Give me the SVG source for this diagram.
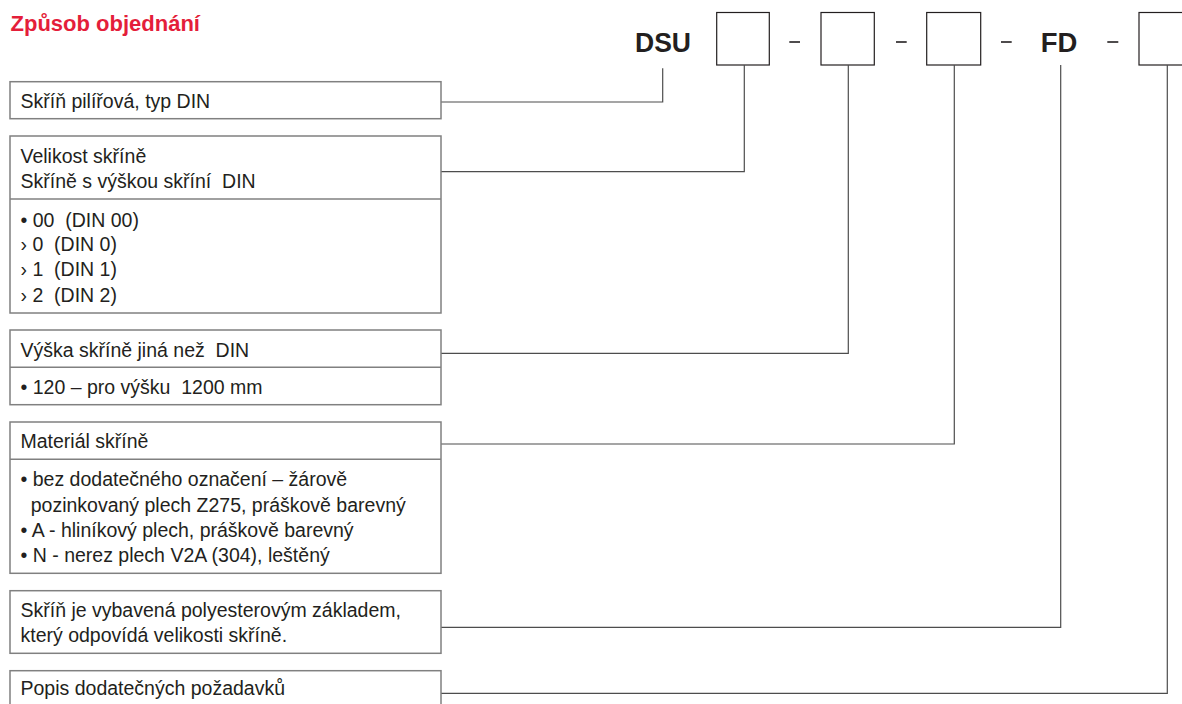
<svg xmlns="http://www.w3.org/2000/svg" width="1182" height="704" viewBox="0 0 1182 704">
<style>
.t{font-family:"Liberation Sans",Arial,sans-serif;font-size:19.5px;fill:#231f20;white-space:pre}
.hd{font-family:"Liberation Sans",Arial,sans-serif;font-size:28px;font-weight:bold;fill:#231f20}
.ttl{font-family:"Liberation Sans",Arial,sans-serif;font-size:22px;font-weight:bold;fill:#e41e3a}
.box{fill:#fff;stroke:#808080;stroke-width:1.5}
.div{stroke:#808080;stroke-width:1.5}
.hb{fill:#fff;stroke:#231f20;stroke-width:1.2}
.dash{stroke:#231f20;stroke-width:1.6}
.con{fill:none;stroke:#4d4d4d;stroke-width:1.2}
</style>
<rect width="1182" height="704" fill="#fff"/>
<text class="ttl" x="10.5" y="31">Způsob objednání</text>

<g id="header">
<text class="hd" x="635" y="51.7" textLength="56" lengthAdjust="spacingAndGlyphs">DSU</text>
<rect class="hb" x="716.7" y="12.5" width="52.6" height="52.5"/>
<line class="dash" x1="789.3" y1="42" x2="800" y2="42"/>
<rect class="hb" x="821" y="12.5" width="53.3" height="52.5"/>
<line class="dash" x1="896" y1="42" x2="906.7" y2="42"/>
<rect class="hb" x="926.7" y="12.5" width="54" height="52.5"/>
<line class="dash" x1="1001" y1="42" x2="1011.7" y2="42"/>
<text class="hd" x="1040.7" y="51.7" textLength="36.6" lengthAdjust="spacingAndGlyphs">FD</text>
<line class="dash" x1="1107.3" y1="42" x2="1118.3" y2="42"/>
<rect class="hb" x="1139" y="12.5" width="54" height="52.5"/>
</g>

<g id="connectors">
<path class="con" d="M441 102 H662.7 V68.3"/>
<path class="con" d="M441 171.7 H744.3 V65"/>
<path class="con" d="M441 353.3 H848.3 V65"/>
<path class="con" d="M441 444 H954.3 V65"/>
<path class="con" d="M441 627.3 H1060.7 V65"/>
<path class="con" d="M441 693.3 H1167.3 V65"/>
</g>

<g id="box-typ">
<rect class="box" x="10" y="81.7" width="431" height="37"/>
<text class="t" x="20.5" y="108.3">Skříň pilířová, typ DIN</text>
</g>

<g id="box-velikost">
<rect class="box" x="10" y="136" width="431" height="177"/>
<line class="div" x1="10" y1="199" x2="441" y2="199"/>
<text class="t" x="20.5" y="162.7">Velikost skříně</text>
<text class="t" x="20.5" y="188">Skříně s výškou skříní  DIN</text>
<text class="t" x="20.5" y="226.5">• 00  (DIN 00)</text>
<text class="t" x="20.5" y="251">› 0  (DIN 0)</text>
<text class="t" x="20.5" y="276">› 1  (DIN 1)</text>
<text class="t" x="20.5" y="301.5">› 2  (DIN 2)</text>
</g>

<g id="box-vyska">
<rect class="box" x="10" y="330" width="431" height="74.7"/>
<line class="div" x1="10" y1="367.3" x2="441" y2="367.3"/>
<text class="t" x="20.5" y="356.7">Výška skříně jiná než  DIN</text>
<text class="t" x="20.5" y="394">• 120 – pro výšku  1200 mm</text>
</g>

<g id="box-material">
<rect class="box" x="10" y="422" width="431" height="151.3"/>
<line class="div" x1="10" y1="459.3" x2="441" y2="459.3"/>
<text class="t" x="20.5" y="448.3">Materiál skříně</text>
<text class="t" x="20.5" y="485.7">• bez dodatečného označení – žárově</text>
<text class="t" x="30.7" y="511.7">pozinkovaný plech Z275, práškově barevný</text>
<text class="t" x="20.5" y="536.7">• A - hliníkový plech, práškově barevný</text>
<text class="t" x="20.5" y="561.7">• N - nerez plech V2A (304), leštěný</text>
</g>

<g id="box-zaklad">
<rect class="box" x="10" y="590.7" width="431" height="62.6"/>
<text class="t" x="20.5" y="616.7">Skříň je vybavená polyesterovým základem,</text>
<text class="t" x="20.5" y="641.7">který odpovídá velikosti skříně.</text>
</g>

<g id="box-popis">
<rect class="box" x="10" y="670.7" width="431" height="45"/>
<text class="t" x="20.5" y="695">Popis dodatečných požadavků</text>
</g>
</svg>
